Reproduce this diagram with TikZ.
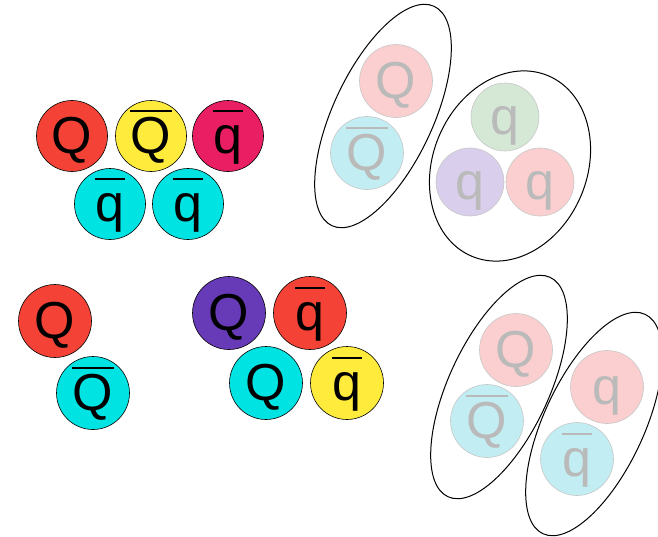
\documentclass[tikz,border=0pt]{standalone}
\usepackage{fontspec}
\setmainfont{Liberation Sans}
\usepackage{tikz}
\usetikzlibrary{shapes.geometric}

\definecolor{qred}{HTML}{F44336}
\definecolor{qyellow}{HTML}{FFEB3B}
\definecolor{qpink}{HTML}{E91E63}
\definecolor{qcyan}{HTML}{00E3E3}
\definecolor{qpurple}{HTML}{673AB7}
\definecolor{lred}{HTML}{FBCFCF}
\definecolor{lcyan}{HTML}{C2EDF2}
\definecolor{lgreen}{HTML}{D4E8D5}
\definecolor{lpurple}{HTML}{D9CEEB}

% antiparticle: letter with a bar on top
\newsavebox{\antibox}
\newcommand{\anti}[1]{\sbox{\antibox}{\kern 0.5pt#1\kern 0.5pt}%
  \rlap{\smash{\raisebox{41.5pt}{\rule{\wd\antibox}{2pt}}}}\usebox{\antibox}}

\begin{document}
\begin{tikzpicture}[
    x=1pt, y=-1pt,
    quark/.style={circle, draw=black, line width=0.6pt, minimum size=73pt, inner sep=0pt,
      text height=38pt, text depth=4pt, font=\fontsize{52}{52}\selectfont},
    quark red/.style={quark, fill=qred},
    quark yellow/.style={quark, fill=qyellow},
    quark pink/.style={quark, fill=qpink},
    quark cyan/.style={quark, fill=qcyan},
    quark purple/.style={quark, fill=qpurple},
    ghost/.style={quark, draw=black!22, text=black!27},
    ghost red/.style={ghost, fill=lred},
    ghost cyan/.style={ghost, fill=lcyan},
    ghost green/.style={ghost, fill=lgreen},
    ghost purple/.style={ghost, fill=lpurple},
    hadron/.style={ellipse, draw=black, line width=1pt, inner sep=0pt, minimum width=100pt, minimum height=242pt}
  ]
    \useasboundingbox (0,0) rectangle (658,536);
    \clip (0,0) rectangle (658,536);

    % pentaquark
    \node[quark red, minimum size=71pt] (p1) at (72,136) {Q};
    \node[quark yellow, minimum size=71pt] (p2) at (151,136) {\anti{Q}};
    \node[quark pink, minimum size=71pt] (p3) at (228,136) {\anti{q}};
    \node[quark cyan, minimum size=71pt] (p4) at (110,204) {\anti{q}};
    \node[quark cyan, minimum size=71pt] (p5) at (188,204) {\anti{q}};

    % meson + baryon molecule
    \node[hadron, rotate=-25] (mol1) at (383,116) {};
    \node[hadron, minimum width=154pt, minimum height=196pt, rotate=-23] (mol2) at (510,166) {};
    \node[ghost red] (m1) at (396,81) {Q};
    \node[ghost cyan] (m2) at (367,153) {\anti{Q}};
    \node[ghost green, minimum size=68pt] (b1) at (505,117) {q};
    \node[ghost purple, minimum size=68pt] (b2) at (470,182) {q};
    \node[ghost red, minimum size=68pt] (b3) at (540,182) {q};

    % quarkonium
    \node[quark red] (c1) at (55,321) {Q};
    \node[quark cyan] (c2) at (93,393) {\anti{Q}};

    % tetraquark
    \node[quark purple] (t1) at (229,313) {Q};
    \node[quark red] (t2) at (310,313) {\anti{q}};
    \node[quark cyan] (t3) at (266,383) {Q};
    \node[quark yellow] (t4) at (347,383) {\anti{q}};

    % meson molecule
    \node[hadron, rotate=-25] (mol3) at (499,387) {};
    \node[hadron, rotate=-25] (mol4) at (594,424) {};
    \node[ghost red] (d1) at (516,350) {Q};
    \node[ghost cyan] (d2) at (487,421) {\anti{Q}};
    \node[ghost red] (d3) at (607,387) {q};
    \node[ghost cyan] (d4) at (577,459) {\anti{q}};
\end{tikzpicture}
\end{document}
